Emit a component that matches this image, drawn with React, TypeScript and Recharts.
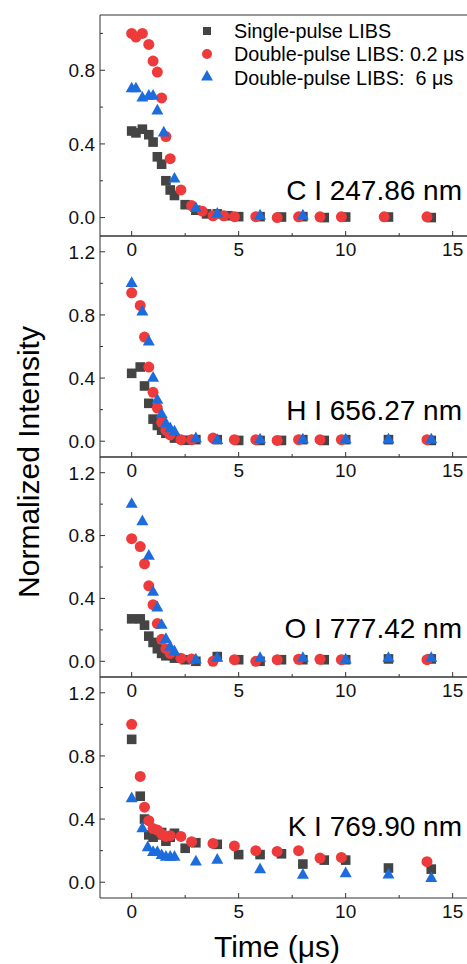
import React from 'react'
import { ScatterChart, Scatter, XAxis, YAxis, ReferenceArea } from 'recharts'

// shared axes
const xTicks = [0, 2.5, 5, 7.5, 10, 12.5, 15]
const yTicksC = [0, 0.2, 0.4, 0.6, 0.8, 1.0]
const yTicksRest = [0, 0.2, 0.4, 0.6, 0.8, 1.0, 1.2]

// C I 247.86 nm
const cSingleT = [0, 0.2, 0.5, 0.8, 1.0, 1.2, 1.4, 1.6, 1.8, 2.0, 2.5, 3, 3.5, 4, 4.5, 5, 6, 7, 8, 9, 10, 12, 14]
const cSingleV = [0.47, 0.46, 0.48, 0.45, 0.41, 0.33, 0.29, 0.2, 0.15, 0.12, 0.07, 0.04, 0.02, 0.02, 0.01, 0.005, 0.005, 0.003, 0.005, 0, 0.003, 0.003, 0]
const cDp02T = [0, 0.2, 0.5, 0.8, 1.0, 1.2, 1.4, 1.6, 1.8, 2.3, 2.8, 3.3, 3.8, 4.3, 4.8, 5.8, 6.8, 7.8, 8.8, 9.8, 11.8, 13.8]
const cDp02V = [1.0, 0.98, 1.0, 0.94, 0.85, 0.79, 0.65, 0.44, 0.32, 0.15, 0.065, 0.035, 0.01, 0.01, 0.005, 0.005, 0, 0.004, 0.004, 0.004, 0.004, 0.004]
const cDp6T = [0, 0.2, 0.5, 0.8, 1.0, 1.2, 1.5, 2.0, 3, 4, 6, 8]
const cDp6V = [0.7, 0.7, 0.65, 0.66, 0.66, 0.58, 0.46, 0.21, 0.05, 0.02, 0.01, 0.01]

// H I 656.27 nm
const hSingleT = [0, 0.4, 0.6, 0.8, 1.0, 1.2, 1.4, 1.6, 2.0, 2.5, 3, 4, 5, 6, 7, 8, 9, 10, 12, 14]
const hSingleV = [0.43, 0.47, 0.35, 0.24, 0.14, 0.1, 0.07, 0.05, 0.02, 0.006, 0.01, 0.01, 0.005, 0.005, 0.005, 0.01, 0.005, 0.01, 0.01, 0.005]
const hDp02T = [0, 0.4, 0.6, 0.8, 1.0, 1.2, 1.4, 1.6, 1.8, 2.3, 2.8, 3.8, 4.8, 5.8, 6.8, 7.8, 8.8, 9.8, 13.8]
const hDp02V = [0.94, 0.86, 0.66, 0.47, 0.31, 0.21, 0.12, 0.07, 0.04, 0.01, 0.01, 0.02, 0.01, 0.01, 0.005, 0.01, 0.01, 0.01, 0.01]
const hDp6T = [0, 0.5, 0.8, 1.0, 1.2, 1.4, 1.6, 1.8, 2.0, 3, 4, 6, 8, 10, 12, 14]
const hDp6V = [1.0, 0.82, 0.63, 0.4, 0.26, 0.17, 0.11, 0.08, 0.06, 0.017, 0.006, 0.01, 0.01, 0.01, 0.01, 0.01]

// O I 777.42 nm
const oSingleT = [0, 0.4, 0.6, 0.8, 1.0, 1.2, 1.4, 1.6, 2.0, 2.5, 3, 4, 5, 6, 7, 8, 9, 10, 12, 14]
const oSingleV = [0.27, 0.27, 0.23, 0.16, 0.12, 0.08, 0.05, 0.035, 0.02, 0.01, 0, 0.03, 0.01, 0, 0.01, 0.01, 0.01, 0.01, 0.015, 0.015]
const oDp02T = [0, 0.4, 0.6, 0.8, 1.0, 1.2, 1.4, 1.6, 1.8, 2.3, 2.8, 3.8, 4.8, 5.8, 6.8, 7.8, 8.8, 9.8, 13.8]
const oDp02V = [0.78, 0.73, 0.62, 0.48, 0.36, 0.24, 0.14, 0.08, 0.05, 0.02, 0.015, 0, 0.01, 0, 0.01, 0.013, 0.013, 0.01, 0.01]
const oDp6T = [0, 0.5, 0.8, 1.0, 1.2, 1.4, 1.6, 1.8, 2.0, 3, 4, 6, 8, 10, 12, 14]
const oDp6V = [1.0, 0.89, 0.67, 0.44, 0.34, 0.23, 0.14, 0.09, 0.06, 0.01, 0.02, 0.02, 0.02, 0.01, 0.02, 0.02]

// K I 769.90 nm
const kSingleT = [0, 0.4, 0.6, 0.8, 1.0, 1.2, 1.4, 1.6, 1.8, 2.0, 2.5, 3, 4, 5, 6, 7, 8, 9, 10, 12, 14]
const kSingleV = [0.905, 0.545, 0.4, 0.3, 0.285, 0.3, 0.315, 0.26, 0.285, 0.31, 0.215, 0.25, 0.24, 0.175, 0.175, 0.18, 0.115, 0.14, 0.14, 0.09, 0.083]
const kDp02T = [0, 0.4, 0.6, 0.8, 1.0, 1.2, 1.4, 1.6, 1.8, 2.3, 2.8, 3.8, 4.8, 5.8, 6.8, 7.8, 8.8, 9.8, 13.8]
const kDp02V = [1.0, 0.67, 0.475, 0.39, 0.34, 0.33, 0.305, 0.29, 0.295, 0.29, 0.257, 0.246, 0.23, 0.2, 0.195, 0.2, 0.153, 0.157, 0.13]
const kDp6T = [0, 0.5, 0.75, 1.0, 1.2, 1.4, 1.6, 1.8, 2.0, 3, 4, 6, 8, 10, 12, 14]
const kDp6V = [0.53, 0.34, 0.22, 0.19, 0.19, 0.17, 0.16, 0.16, 0.16, 0.13, 0.14, 0.08, 0.045, 0.055, 0.047, 0.025]

const seriesNames = ['Single-pulse LIBS', 'Double-pulse LIBS: 0.2 μs', 'Double-pulse LIBS:  6 μs']

const GRAY = '#444444'
const RED = '#EE3A3A'
const BLUE = '#1D6CDE'
const FONT = 'Arial, "Liberation Sans", sans-serif'
// plot runs past the right edge of the picture, so the right frame line is cut off
const X_DOMAIN: [number, number] = [-1.48, 15.81]

const zip = (t: number[], v: number[]) => t.map((x, i) => ({ t: x, v: v[i] }))

const Square = (p: any) => <rect x={p.cx - 4.8} y={p.cy - 4.8} width={9.6} height={9.6} fill={GRAY} />
const Circle = (p: any) => <circle cx={p.cx} cy={p.cy} r={5.5} fill={RED} />
const Triangle = (p: any) => (
  <polygon points={`${p.cx},${p.cy - 7} ${p.cx + 6},${p.cy + 3.7} ${p.cx - 6},${p.cy + 3.7}`} fill={BLUE} />
)

const XTick = (p: any) => {
  const major = p.payload.value % 5 === 0
  return (
    <g>
      <line x1={p.x} y1={p.y} x2={p.x} y2={p.y - (major ? 5 : 3)} stroke="#333" />
      {major && (
        <text x={p.x} y={p.y + 20} textAnchor="middle" fontSize={19} fontFamily={FONT} fill="#111">
          {p.payload.value}
        </text>
      )}
    </g>
  )
}

const YTick = (p: any) => {
  const v = p.payload.value
  const major = Math.round(v * 10) % 4 === 0
  return (
    <g>
      <line x1={p.x} y1={p.y} x2={p.x + (major ? 5 : 3)} y2={p.y} stroke="#333" />
      {major && (
        <text x={p.x - 5} y={p.y + 6.8} textAnchor="end" fontSize={19} fontFamily={FONT} fill="#111">
          {v.toFixed(1)}
        </text>
      )}
    </g>
  )
}

interface PanelProps {
  top: number
  height: number
  yMax: number
  yTicks: number[]
  single: { t: number; v: number }[]
  dp02: { t: number; v: number }[]
  dp6: { t: number; v: number }[]
}

function Panel({ top, height, yMax, yTicks, single, dp02, dp6 }: PanelProps) {
  return (
    <div style={{ position: 'absolute', left: 0, top: top - 5, width: 467, overflow: 'hidden' }}>
      <ScatterChart width={470} height={height + 35} margin={{ top: 5, right: 0, bottom: 0, left: 40 }}>
        <XAxis type="number" dataKey="t" domain={X_DOMAIN} ticks={xTicks} interval={0} tick={XTick}
          tickLine={false} axisLine={false} tickSize={0} tickMargin={0} height={30} allowDataOverflow />
        <YAxis type="number" dataKey="v" domain={[-0.1, yMax]} ticks={yTicks} interval={0} tick={YTick}
          tickLine={false} axisLine={false} tickSize={0} tickMargin={0} width={60} allowDataOverflow />
        <ReferenceArea x1={X_DOMAIN[0]} x2={X_DOMAIN[1]} y1={-0.1} y2={yMax} fill="none" fillOpacity={0}
          stroke="#333" strokeWidth={1} ifOverflow="visible" />
        <Scatter data={single} shape={Square} isAnimationActive={false} />
        <Scatter data={dp02} shape={Circle} isAnimationActive={false} />
        <Scatter data={dp6} shape={Triangle} isAnimationActive={false} />
      </ScatterChart>
    </div>
  )
}

const labels = [
  { text: 'C I 247.86 nm', y: 199.5 },
  { text: 'H I 656.27 nm', y: 420 },
  { text: 'O I 777.42 nm', y: 638 },
  { text: 'K I 769.90 nm', y: 836 },
]

export default function App() {
  return (
    <div style={{ position: 'absolute', left: 0, top: 0, width: 467, height: 964, background: '#fff', overflow: 'hidden' }}>
      <Panel top={15} height={221} yMax={1.1} yTicks={yTicksC}
        single={zip(cSingleT, cSingleV)} dp02={zip(cDp02T, cDp02V)} dp6={zip(cDp6T, cDp6V)} />
      <Panel top={236} height={221} yMax={1.3} yTicks={yTicksRest}
        single={zip(hSingleT, hSingleV)} dp02={zip(hDp02T, hDp02V)} dp6={zip(hDp6T, hDp6V)} />
      <Panel top={457} height={220} yMax={1.3} yTicks={yTicksRest}
        single={zip(oSingleT, oSingleV)} dp02={zip(oDp02T, oDp02V)} dp6={zip(oDp6T, oDp6V)} />
      <Panel top={677} height={221} yMax={1.3} yTicks={yTicksRest}
        single={zip(kSingleT, kSingleV)} dp02={zip(kDp02T, kDp02V)} dp6={zip(kDp6T, kDp6V)} />
      <svg width={467} height={964} style={{ position: 'absolute', left: 0, top: 0, pointerEvents: 'none' }}
        fontFamily={FONT}>
        <text transform="translate(39,462) rotate(-90)" textAnchor="middle" fontSize={30} fill="#000">
          Normalized Intensity
        </text>
        <text x={277} y={957} textAnchor="middle" fontSize={30} fill="#000">Time (μs)</text>
        {labels.map((l) => (
          <text key={l.text} x={462} y={l.y} textAnchor="end" fontSize={28} fill="#000">{l.text}</text>
        ))}
        <rect x={203} y={27} width={8} height={8} fill={GRAY} />
        <circle cx={207} cy={54} r={5} fill={RED} />
        <polygon points="207,70 213,80.5 201,80.5" fill={BLUE} />
        {seriesNames.map((n, i) => (
          <text key={n} x={234} y={38 + i * 23.3} fontSize={19.8} fill="#000" style={{ whiteSpace: 'pre' }}>
            {n}
          </text>
        ))}
      </svg>
    </div>
  )
}
